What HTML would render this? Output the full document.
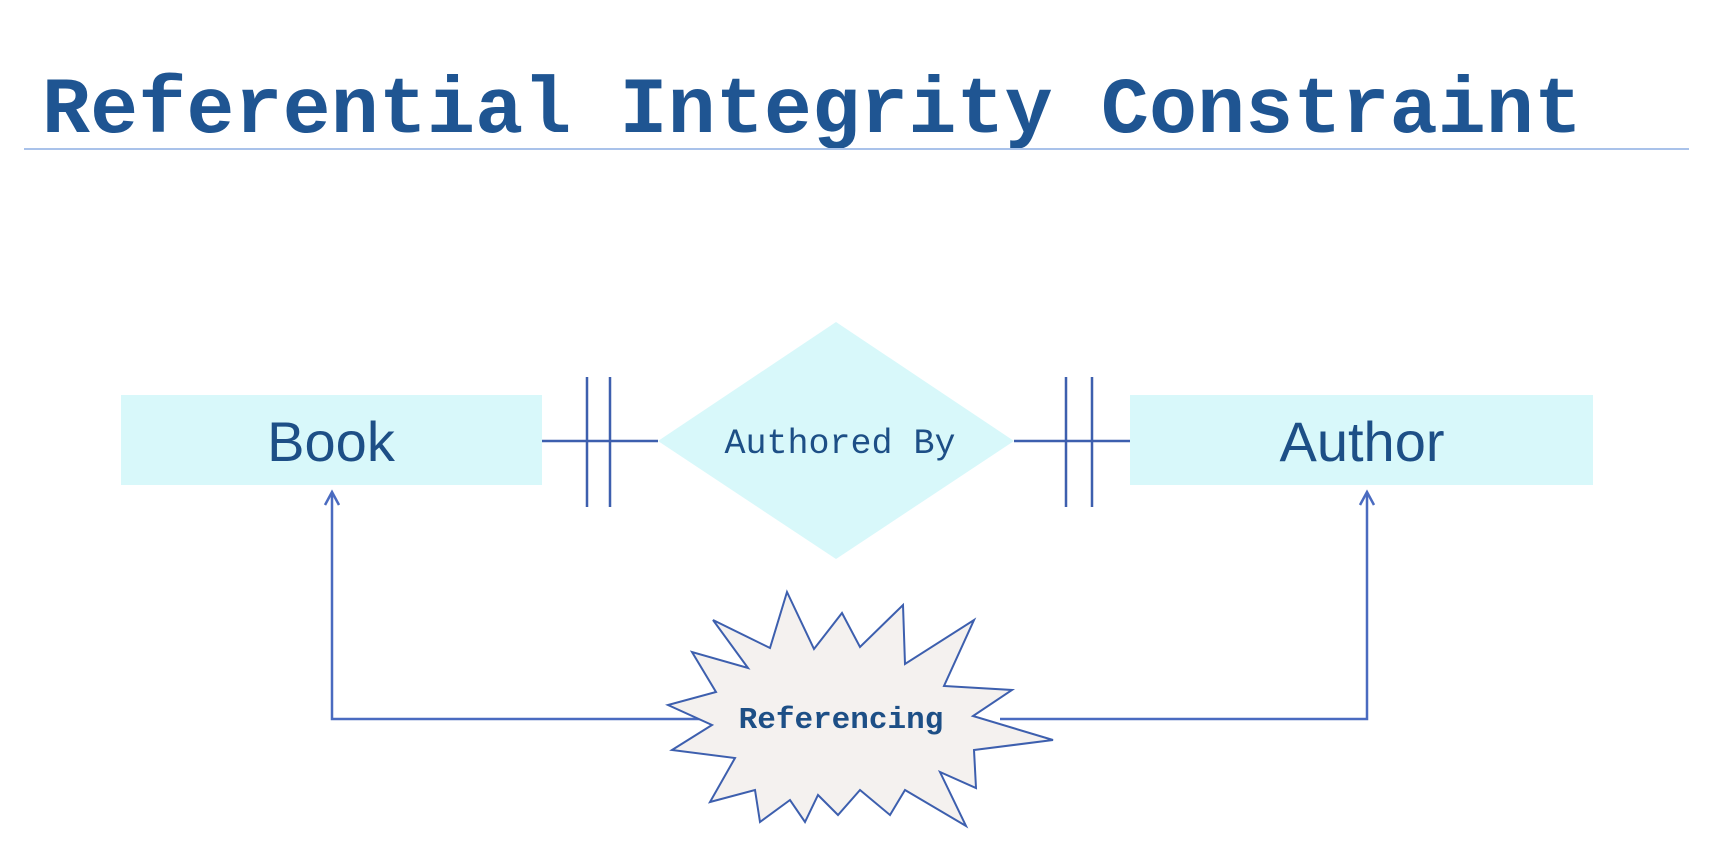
<!DOCTYPE html>
<html><head><meta charset="utf-8"><style>
html,body{margin:0;padding:0;background:#fff;width:1720px;height:867px;overflow:hidden}
svg{display:block}
</style></head><body>
<svg width="1720" height="867" viewBox="0 0 1720 867">
<text x="42" y="132" font-family="Liberation Mono, monospace" font-weight="bold" font-size="80" fill="#1f5592" textLength="1540">Referential Integrity Constraint</text>
<line x1="24" y1="149" x2="1689" y2="149" stroke="#a9c2ea" stroke-width="2"/>

<rect x="121" y="395" width="421" height="90" fill="#d8f8fa"/>
<text x="331" y="461" text-anchor="middle" font-family="Liberation Sans, sans-serif" font-size="56" fill="#1d4f86">Book</text>
<rect x="1130" y="395" width="463" height="90" fill="#d8f8fa"/>
<text x="1362" y="461" text-anchor="middle" font-family="Liberation Sans, sans-serif" font-size="56" fill="#1d4f86">Author</text>

<polygon points="836,322 1014,441 836,559 658,441" fill="#d8f8fa"/>
<text x="840" y="453" text-anchor="middle" font-family="Liberation Mono, monospace" font-size="35" fill="#1d4f86">Authored By</text>

<g stroke="#3d5fae" stroke-width="2.5" fill="none">
<line x1="542" y1="441" x2="658" y2="441"/>
<line x1="587" y1="377" x2="587" y2="507"/>
<line x1="610" y1="377" x2="610" y2="507"/>
</g>
<g stroke="#3d5fae" stroke-width="2.5" fill="none">
<line x1="1014" y1="441" x2="1130" y2="441"/>
<line x1="1066" y1="377" x2="1066" y2="507"/>
<line x1="1092" y1="377" x2="1092" y2="507"/>
</g>

<g stroke="#4a6bc0" stroke-width="2.5" fill="none">
<polyline points="710,719 332,719 332,493"/>
<polyline points="325,505 332,492 339,505"/>
</g>
<g stroke="#4a6bc0" stroke-width="2.5" fill="none">
<polyline points="1000,719 1367,719 1367,493"/>
<polyline points="1360,505 1367,492 1374,505"/>
</g>

<polygon fill="#f4f1ef" stroke="#3d5fae" stroke-width="2"
points="787,592 814,649 842,613 860,647 903,605 905,664 974,620 944,686 1012,690 973,716 1053,740 974,750 976,788 940,772 966,826 905,790 890,815 860,790 838,815 818,795 805,822 790,800 760,822 755,790 710,802 735,758 672,750 712,725 668,705 716,692 692,652 748,668 713,620 770,648"/>
<text x="841" y="728" text-anchor="middle" font-family="Liberation Mono, monospace" font-weight="bold" font-size="31" fill="#1d4f86">Referencing</text>
</svg>
</body></html>
